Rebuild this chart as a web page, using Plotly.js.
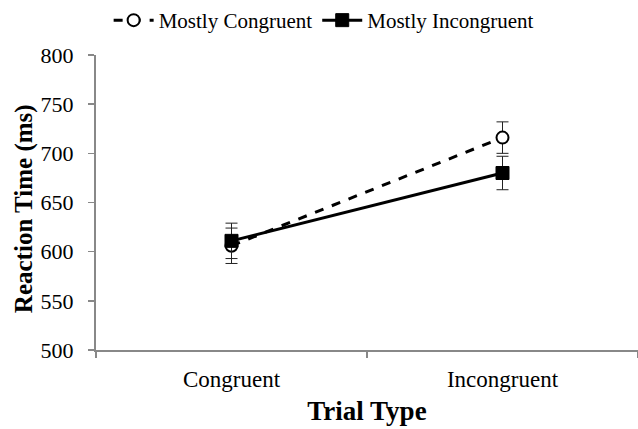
<!DOCTYPE html>
<html>
<head>
<meta charset="utf-8">
<script src="https://cdn.plot.ly/plotly-3.0.1.min.js"></script>
<style>html,body{margin:0;padding:0;background:#fff;}#chart{width:638px;height:429px;}</style>
</head>
<body>
<div id="chart"></div>
<script>
const categories = ["Congruent", "Incongruent"];
const mostlyCongruent = [606, 716];
const mostlyCongruentErr = [18, 16];
const mostlyIncongruent = [611, 680];
const mostlyIncongruentErr = [18, 17];
const yTicks = [500, 550, 600, 650, 700, 750, 800];

const serif = "Liberation Serif, DejaVu Serif, serif";

const traces = [
  {
    x: categories, y: mostlyCongruent, name: "Mostly Congruent",
    type: "scatter", mode: "lines+markers",
    line: {color: "#000", width: 3, dash: "dash"},
    marker: {symbol: "circle", size: 12, color: "#fff", line: {color: "#000", width: 2}},
    error_y: {type: "data", array: mostlyCongruentErr, visible: true, color: "#222", thickness: 1, width: 6}
  },
  {
    x: categories, y: mostlyIncongruent, name: "Mostly Incongruent",
    type: "scatter", mode: "lines+markers",
    line: {color: "#000", width: 3},
    marker: {symbol: "square", size: 13, color: "#000", line: {color: "#000", width: 1}},
    error_y: {type: "data", array: mostlyIncongruentErr, visible: true, color: "#222", thickness: 1, width: 6}
  }
];

const layout = {
  width: 638, height: 429,
  margin: {l: 96, r: 0, t: 55, b: 79},
  paper_bgcolor: "#fff", plot_bgcolor: "#fff",
  font: {family: serif, color: "#000", size: 21},
  showlegend: true,
  legend: {orientation: "h", x: 0.42, xref: "paper", xanchor: "center", y: 1, yref: "container", yanchor: "top",
           font: {family: serif, size: 21, color: "#000"}, itemwidth: 40, tracegroupgap: 0},
  xaxis: {
    type: "category", range: [-0.5, 1.5], showline: true, linecolor: "#888", linewidth: 2,
    ticks: "outside", tickson: "boundaries", ticklen: 6, tickcolor: "#888", tickwidth: 1.5,
    showgrid: false, zeroline: false,
    tickfont: {family: serif, size: 23, color: "#000"}, ticklabelstandoff: 7,
    title: {text: "<b>Trial Type</b>", font: {family: serif, size: 27, color: "#000"}, standoff: 11}
  },
  yaxis: {
    range: [500, 800], tickvals: yTicks, showline: true, linecolor: "#888", linewidth: 2,
    ticks: "outside", ticklen: 6, tickcolor: "#888", tickwidth: 1.5,
    showgrid: false, zeroline: false,
    tickfont: {family: serif, size: 22, color: "#000"}, ticklabelstandoff: 10,
    title: {text: "<b>Reaction Time (ms)</b>&nbsp;&nbsp;", font: {family: serif, size: 25, color: "#000"}, standoff: 1}
  }
};

Plotly.newPlot("chart", traces, layout, {displayModeBar: false, staticPlot: true});
</script>
</body>
</html>
